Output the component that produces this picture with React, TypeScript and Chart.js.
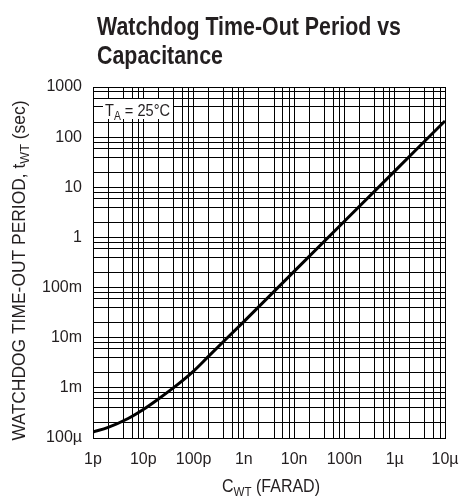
import React, { useEffect, useRef } from 'react';
import { Chart, registerables } from 'chart.js';

Chart.register(...registerables);

// ---- data ----
const capacitance = [1e-12, 2e-12, 5e-12, 1e-11, 2e-11, 5e-11, 1e-10, 2e-10, 1e-9, 1e-8, 1e-7, 1e-6, 1e-5];
const timeOut = [1.32e-4, 1.63e-4, 2.45e-4, 3.7e-4, 6.0e-4, 1.2e-3, 2.16e-3, 4.3e-3, 2.1e-2, 0.21, 2.1, 21, 210];

const xDecades = [1e-12, 1e-11, 1e-10, 1e-9, 1e-8, 1e-7, 1e-6, 1e-5];
const xTickLabels = ['1p', '10p', '100p', '1n', '10n', '100n', '1µ', '10µ'];
const yDecades = [1e-4, 1e-3, 1e-2, 1e-1, 1, 10, 100, 1000];
const yTickLabels = ['100µ', '1m', '10m', '100m', '1', '10', '100', '1000'];
const minorMultipliers = [2, 4, 6, 8];

const titleLines = ['Watchdog Time-Out Period vs', 'Capacitance'];
const xTitleParts = ['C', 'WT', ' (FARAD)'];
const yTitleParts = ['WATCHDOG TIME-OUT PERIOD, t', 'WT', ' (sec)'];
const noteParts = ['T', 'A', ' = 25°C'];

const FONT = '"Liberation Sans", Arial, Helvetica, sans-serif';
const INK = '#231f20';

function buildTicks(decades: number[]) {
  const out: number[] = [];
  decades.forEach((d, i) => {
    out.push(d);
    if (i < decades.length - 1) minorMultipliers.forEach((m) => out.push(d * m));
  });
  return out.map((v) => ({ value: v }));
}

function labelFor(value: number, decades: number[], labels: string[]) {
  const i = decades.findIndex((d) => Math.abs(d - value) / d < 1e-6);
  return i >= 0 ? labels[i] : '';
}

// draw text parts (normal, subscript, normal) squeezed horizontally to a target width
function drawRich(
  ctx: CanvasRenderingContext2D,
  parts: string[],
  sizes: number[],
  weight: string,
  x: number,
  y: number,
  targetWidth: number,
  centered: boolean
) {
  const fonts = sizes.map((s) => `${weight} ${s}px ${FONT}`);
  const widths = parts.map((p, i) => {
    ctx.font = fonts[i];
    return ctx.measureText(p).width;
  });
  const total = widths.reduce((a, b) => a + b, 0);
  const sx = targetWidth / total;
  ctx.save();
  ctx.translate(centered ? x - targetWidth / 2 : x, y);
  ctx.scale(sx, 1);
  let cx = 0;
  parts.forEach((p, i) => {
    ctx.font = fonts[i];
    ctx.fillText(p, cx, i === 1 ? 4 : 0);
    cx += widths[i];
  });
  ctx.restore();
}

const textPlugin = {
  id: 'textPlugin',
  afterDraw(chart: any) {
    const ctx: CanvasRenderingContext2D = chart.ctx;
    const a = chart.chartArea;
    ctx.save();
    ctx.fillStyle = INK;
    ctx.textAlign = 'left';
    ctx.textBaseline = 'alphabetic';
    // title (two lines, condensed bold)
    drawRich(ctx, [titleLines[0], '', ''], [25, 25, 25], 'bold', a.left + 4, 35, 304, false);
    ctx.font = `bold 25px ${FONT}`;
    const r = 304 / ctx.measureText(titleLines[0]).width;
    ctx.save();
    ctx.translate(a.left + 4, 64);
    ctx.scale(r, 1);
    ctx.fillText(titleLines[1], 0, 0);
    ctx.restore();
    // x axis title
    drawRich(ctx, xTitleParts, [18, 13, 18], 'normal', (a.left + a.right) / 2 + 2, 492, 98, true);
    // y axis title
    ctx.save();
    ctx.translate(25, (a.top + a.bottom) / 2 + 8);
    ctx.rotate(-Math.PI / 2);
    drawRich(ctx, yTitleParts, [18, 13, 18], 'normal', 0, 0, 340, true);
    ctx.restore();
    // note box
    ctx.fillStyle = '#fff';
    ctx.fillRect(a.left + 10, a.top + 12, 70, 20);
    ctx.fillStyle = INK;
    drawRich(ctx, noteParts, [17, 12, 17], 'normal', a.left + 12, a.top + 29, 65, false);
    ctx.restore();
  },
};

export default function App() {
  const ref = useRef<HTMLCanvasElement | null>(null);
  useEffect(() => {
    if (!ref.current) return;
    const points = capacitance.map((c, i) => ({ x: c, y: timeOut[i] }));
    const chart = new Chart(ref.current, {
      type: 'line',
      data: {
        datasets: [
          {
            data: points,
            borderColor: '#000',
            borderWidth: 3,
            pointRadius: 0,
            cubicInterpolationMode: 'monotone',
            fill: false,
          },
        ],
      },
      options: {
        animation: false,
        responsive: false,
        events: [],
        layout: { padding: { top: 87, right: 14, left: 0, bottom: 0 } },
        plugins: { legend: { display: false }, tooltip: { enabled: false }, title: { display: false } },
        scales: {
          x: {
            type: 'logarithmic',
            min: 1e-12,
            max: 1e-5,
            afterBuildTicks: (s: any) => {
              s.ticks = buildTicks(xDecades);
            },
            afterFit: (s: any) => {
              s.height = 58;
              s.paddingLeft = 0;
              s.paddingRight = 0;
            },
            grid: { color: '#000', lineWidth: 1, drawTicks: false },
            border: { display: true, color: '#000', width: 1 },
            ticks: {
              autoSkip: false,
              maxRotation: 0,
              padding: 12,
              color: INK,
              font: { family: FONT, size: 16 },
              callback: (v: any) => labelFor(Number(v), xDecades, xTickLabels),
            },
          },
          y: {
            type: 'logarithmic',
            min: 1e-4,
            max: 1000,
            afterBuildTicks: (s: any) => {
              s.ticks = buildTicks(yDecades);
            },
            afterFit: (s: any) => {
              s.width = 93;
              s.paddingTop = 0;
              s.paddingBottom = 0;
            },
            grid: { color: '#000', lineWidth: 1, drawTicks: false },
            border: { display: true, color: '#000', width: 1 },
            ticks: {
              autoSkip: false,
              padding: 11,
              color: INK,
              font: { family: FONT, size: 16 },
              callback: (v: any) => labelFor(Number(v), yDecades, yTickLabels),
            },
          },
        },
      },
      plugins: [textPlugin],
    } as any);
    return () => chart.destroy();
  }, []);
  return (
    <div style={{ position: 'fixed', left: 0, top: 0, width: 459, height: 496, background: '#fff' }}>
      <canvas ref={ref} width={459} height={496} />
    </div>
  );
}
